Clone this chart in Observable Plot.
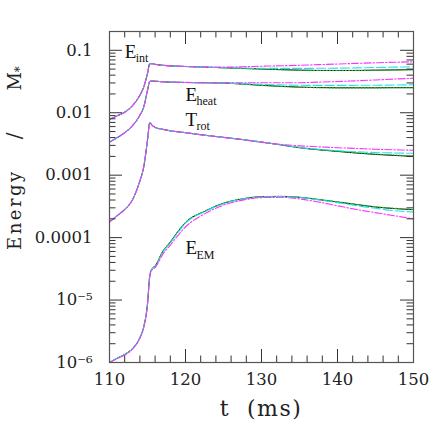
<!DOCTYPE html>
<html><head><meta charset="utf-8">
<script src="https://cdn.jsdelivr.net/npm/d3@7"></script>
<script src="https://cdn.jsdelivr.net/npm/@observablehq/plot@0.6"></script>
<style>body{margin:0;background:#fff}svg{display:block}</style>
</head><body><div id="chart"></div>
<script>
// time (ms)
const time = [110, 111, 112, 113, 114, 114.5, 115, 115.3, 115.6, 116, 117, 118, 119, 120, 122.5, 125, 127.5, 130, 132.5, 135, 137.5, 140, 142.5, 145, 147.5, 150];

// E_int
const eIntBlack   = [0.00783,0.00891,0.0102,0.0129,0.0191,0.0257,0.0427,0.0610,0.0610,0.0596,0.0575,0.0562,0.0556,0.0550,0.0537,0.0525,0.0513,0.0501,0.0490,0.0481,0.0476,0.0475,0.0476,0.0481,0.0485,0.0491];
const eIntGreen   = [0.00783,0.00891,0.0102,0.0129,0.0191,0.0257,0.0427,0.0610,0.0610,0.0596,0.0575,0.0562,0.0556,0.0550,0.0537,0.0525,0.0512,0.0500,0.0489,0.0480,0.0475,0.0474,0.0475,0.0479,0.0483,0.0488];
const eIntCyan    = [0.00783,0.00891,0.0102,0.0129,0.0191,0.0257,0.0427,0.0610,0.0610,0.0596,0.0575,0.0562,0.0556,0.0550,0.0537,0.0527,0.0520,0.0515,0.0513,0.0513,0.0515,0.0518,0.0523,0.0530,0.0537,0.0545];
const eIntMagenta = [0.00783,0.00891,0.0102,0.0129,0.0191,0.0257,0.0427,0.0610,0.0610,0.0596,0.0576,0.0564,0.0558,0.0552,0.0543,0.0537,0.0545,0.0556,0.0565,0.0575,0.0589,0.0603,0.0617,0.0631,0.0643,0.0655];

// E_heat
const eHeatBlack   = [0.00339,0.00398,0.00479,0.00617,0.00912,0.0123,0.0229,0.0316,0.0322,0.0320,0.0313,0.0309,0.0307,0.0305,0.0302,0.0299,0.0288,0.0275,0.0265,0.0257,0.0253,0.0251,0.0251,0.0251,0.0252,0.0252];
const eHeatGreen   = [0.00339,0.00398,0.00479,0.00617,0.00912,0.0123,0.0229,0.0316,0.0322,0.0320,0.0313,0.0309,0.0307,0.0305,0.0302,0.0299,0.0287,0.0274,0.0264,0.0256,0.0252,0.0250,0.0250,0.0250,0.0251,0.0251];
const eHeatCyan    = [0.00339,0.00398,0.00479,0.00617,0.00912,0.0123,0.0229,0.0316,0.0322,0.0320,0.0313,0.0309,0.0307,0.0305,0.0302,0.0300,0.0293,0.0285,0.0279,0.0275,0.0274,0.0274,0.0275,0.0276,0.0278,0.0280];
const eHeatMagenta = [0.00339,0.00398,0.00479,0.00617,0.00912,0.0123,0.0229,0.0316,0.0322,0.0320,0.0314,0.0310,0.0308,0.0306,0.0303,0.0302,0.0302,0.0302,0.0302,0.0302,0.0309,0.0316,0.0325,0.0335,0.0346,0.0356];

// T_rot
const tRotBlack   = [1.78e-4,2.24e-4,2.82e-4,3.98e-4,8.13e-4,1.35e-3,3.63e-3,6.92e-3,6.31e-3,5.82e-3,5.43e-3,5.13e-3,4.95e-3,4.79e-3,4.37e-3,4.03e-3,3.72e-3,3.39e-3,3.06e-3,2.75e-3,2.55e-3,2.40e-3,2.26e-3,2.15e-3,2.07e-3,2.00e-3];
const tRotGreen   = [1.78e-4,2.24e-4,2.82e-4,3.98e-4,8.13e-4,1.35e-3,3.63e-3,6.92e-3,6.31e-3,5.82e-3,5.43e-3,5.13e-3,4.95e-3,4.79e-3,4.37e-3,4.03e-3,3.73e-3,3.40e-3,3.08e-3,2.77e-3,2.58e-3,2.43e-3,2.29e-3,2.18e-3,2.10e-3,2.03e-3];
const tRotCyan    = [1.78e-4,2.24e-4,2.82e-4,3.98e-4,8.13e-4,1.35e-3,3.63e-3,6.92e-3,6.31e-3,5.82e-3,5.43e-3,5.13e-3,4.95e-3,4.79e-3,4.37e-3,4.03e-3,3.72e-3,3.40e-3,3.08e-3,2.78e-3,2.60e-3,2.47e-3,2.37e-3,2.30e-3,2.27e-3,2.24e-3];
const tRotMagenta = [1.78e-4,2.24e-4,2.82e-4,3.98e-4,8.13e-4,1.35e-3,3.63e-3,6.92e-3,6.31e-3,5.82e-3,5.43e-3,5.13e-3,4.95e-3,4.79e-3,4.37e-3,4.03e-3,3.70e-3,3.35e-3,3.12e-3,2.95e-3,2.85e-3,2.75e-3,2.68e-3,2.60e-3,2.55e-3,2.51e-3];

// E_EM
const eEmBlack   = [1.0e-6,1.17e-6,1.35e-6,1.66e-6,2.51e-6,3.72e-6,8.71e-6,2.45e-5,3.16e-5,3.5e-5,6.0e-5,8.5e-5,1.25e-4,1.75e-4,2.63e-4,3.55e-4,4.17e-4,4.52e-4,4.57e-4,4.42e-4,4.07e-4,3.72e-4,3.39e-4,3.09e-4,2.92e-4,2.80e-4];
const eEmGreen   = [1.0e-6,1.17e-6,1.35e-6,1.66e-6,2.51e-6,3.72e-6,8.71e-6,2.45e-5,3.16e-5,3.5e-5,6.0e-5,8.5e-5,1.25e-4,1.75e-4,2.63e-4,3.55e-4,4.18e-4,4.53e-4,4.58e-4,4.44e-4,4.10e-4,3.75e-4,3.42e-4,3.12e-4,2.95e-4,2.82e-4];
const eEmCyan    = [1.0e-6,1.17e-6,1.35e-6,1.66e-6,2.51e-6,3.72e-6,8.71e-6,2.45e-5,3.16e-5,3.4e-5,5.8e-5,8.2e-5,1.20e-4,1.70e-4,2.58e-4,3.50e-4,4.13e-4,4.48e-4,4.53e-4,4.40e-4,4.02e-4,3.63e-4,3.25e-4,2.95e-4,2.70e-4,2.57e-4];
const eEmMagenta = [1.0e-6,1.15e-6,1.32e-6,1.62e-6,2.45e-6,3.6e-6,8.3e-6,2.35e-5,3.05e-5,3.3e-5,5.4e-5,7.6e-5,1.08e-4,1.48e-4,2.40e-4,3.31e-4,3.98e-4,4.37e-4,4.42e-4,4.17e-4,3.72e-4,3.24e-4,2.82e-4,2.51e-4,2.24e-4,2.00e-4];

// tick labels
const xMajorTicks = [110, 120, 130, 140, 150];
const xTickLabels = ["110", "120", "130", "140", "150"];
const yMajorTicks = [1e-6, 1e-5, 1e-4, 1e-3, 0.01, 0.1];
const yTickLabels = ["10\u207B\u2076", "10\u207B\u2075", "0.0001", "0.001", "0.01", "0.1"];

// curve labels
const labelMain = ["E", "E", "T", "E"];
const labelSub = ["int", "heat", "rot", "EM"];
const labelT = [112.0, 120.0, 120.0, 120.0];
const labelV = [0.0932, 0.01908, 0.00758, 6.74e-5];

const quantities = {
  int: {black: eIntBlack, green: eIntGreen, cyan: eIntCyan, magenta: eIntMagenta},
  heat: {black: eHeatBlack, green: eHeatGreen, cyan: eHeatCyan, magenta: eHeatMagenta},
  rot: {black: tRotBlack, green: tRotGreen, cyan: tRotCyan, magenta: tRotMagenta},
  em: {black: eEmBlack, green: eEmGreen, cyan: eEmCyan, magenta: eEmMagenta}
};
const rows = [];
for (const [q, series] of Object.entries(quantities))
  for (const [s, arr] of Object.entries(series))
    arr.forEach((v, i) => rows.push({q, s, t: time[i], v}));
const bySeries = s => rows.filter(d => d.s === s);

const labels = labelMain.map((m, i) => ({main: m, sub: labelSub[i], t: labelT[i], v: labelV[i]}));
const xLabelRows = xMajorTicks.map((d, i) => ({t: d, label: xTickLabels[i]}));
const yLabelRows = yMajorTicks.map((d, i) => ({v: d, label: yTickLabels[i]}));

const xMinorTicks = d3.range(110, 151, 2);
const yMinorTicks = d3.range(-6, 0).flatMap(e => d3.range(2, 10).map(m => m * Math.pow(10, e))).filter(v => v <= 0.2001);

const W = 443, H = 443, mL = 109, mR = 30, mT = 31, mB = 81;
const fw = W - mL - mR, fh = H - mT - mB;
const tickColor = "#333";

const plot = Plot.plot({
  width: W, height: H,
  marginLeft: mL, marginRight: mR, marginTop: mT, marginBottom: mB,
  style: {fontFamily: "DejaVu Serif", fontSize: "16.5px", color: "#222", background: "#fff"},
  x: {domain: [110, 150], axis: null},
  y: {type: "log", domain: [1e-6, 0.2], axis: null},
  marks: [
    Plot.line(bySeries("black"), {x: "t", y: "v", z: "q", stroke: "#000", strokeWidth: 1, curve: "monotone-x"}),
    Plot.line(bySeries("green"), {x: "t", y: "v", z: "q", stroke: "#22bb22", strokeWidth: 1.1, strokeDasharray: "1.2,2", curve: "monotone-x"}),
    Plot.line(bySeries("cyan"), {x: "t", y: "v", z: "q", stroke: "#22e6e6", strokeWidth: 1.1, strokeDasharray: "9,3", curve: "monotone-x"}),
    Plot.line(bySeries("magenta"), {x: "t", y: "v", z: "q", stroke: "#ff33ff", strokeWidth: 1.1, strokeDasharray: "7,2,1.5,2", curve: "monotone-x"}),
    // inward ticks: bottom & top
    Plot.tickX(xMinorTicks, {x: d => d, insetTop: fh - 6.5, stroke: tickColor}),
    Plot.tickX(xMinorTicks, {x: d => d, insetBottom: fh - 6.5, stroke: tickColor}),
    Plot.tickX(xMajorTicks, {x: d => d, insetTop: fh - 13, stroke: tickColor}),
    Plot.tickX(xMajorTicks, {x: d => d, insetBottom: fh - 13, stroke: tickColor}),
    // inward ticks: left & right
    Plot.tickY(yMinorTicks, {y: d => d, insetRight: fw - 6.5, stroke: tickColor}),
    Plot.tickY(yMinorTicks, {y: d => d, insetLeft: fw - 6.5, stroke: tickColor}),
    Plot.tickY(yMajorTicks, {y: d => d, insetRight: fw - 13, stroke: tickColor}),
    Plot.tickY(yMajorTicks, {y: d => d, insetLeft: fw - 13, stroke: tickColor}),
    // tick labels
    Plot.text(xLabelRows, {x: "t", text: "label", frameAnchor: "bottom", lineAnchor: "top", dy: 11, fill: "#222", fontSize: 16.5}),
    Plot.text(yLabelRows, {y: "v", text: "label", frameAnchor: "left", textAnchor: "end", dx: -17, fill: "#222", fontSize: 16.5}),
    Plot.frame({stroke: "#555", strokeWidth: 1.2}),
    Plot.text(labels, {x: "t", y: "v", text: "main", textAnchor: "start", fontFamily: "Liberation Serif", fontSize: 19, fill: "#111"}),
    Plot.text(labels, {x: "t", y: "v", text: "sub", textAnchor: "start", dx: 11, dy: 6.4, fontFamily: "Liberation Serif", fontSize: 12, fill: "#111"})
  ]
});

const svg = d3.select(plot);
// y-axis title
const yt = svg.append("text")
  .attr("transform", "translate(21,250) rotate(-90)")
  .attr("text-anchor", "start")
  .attr("font-family", "DejaVu Serif")
  .attr("font-size", 18)
  .attr("fill", "#222");
yt.append("tspan").attr("letter-spacing", 2.5).text("Energy");
yt.append("tspan").attr("dx", 30).attr("font-size", 20).text("/");
yt.append("tspan").attr("dx", 42).text("M");
yt.append("tspan").attr("dy", 3).attr("font-size", 12).text("*");
// x-axis title
svg.append("text")
  .attr("x", mL + fw / 2).attr("y", 416)
  .attr("text-anchor", "middle")
  .attr("font-family", "DejaVu Serif")
  .attr("font-size", 22)
  .attr("letter-spacing", 1.5)
  .attr("fill", "#222")
  .text("t\u00a0\u00a0(ms)");

document.getElementById("chart").appendChild(plot);
</script>
</body></html>
